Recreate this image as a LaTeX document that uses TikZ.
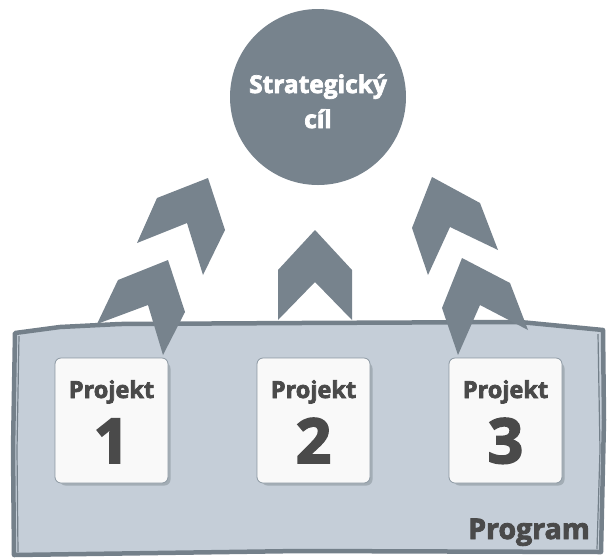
\documentclass[tikz,border=0pt]{standalone}
\usepackage{fontspec}
\setmainfont{Open Sans}[BoldFeatures={FakeBold=3}]
\usetikzlibrary{calc}
\definecolor{slate}{HTML}{77838D}
\definecolor{boxfill}{HTML}{C5CED8}
\definecolor{edge}{HTML}{74808A}
\definecolor{cardfill}{HTML}{F9F9F9}
\definecolor{cardedge}{HTML}{8C98A2}
\definecolor{ink}{HTML}{4A4A4A}
\tikzset{
  chevron/.style={fill=slate, draw=none},
  card/.style={draw=cardedge, line width=0.8pt, fill=cardfill, rounded corners=6pt,
    minimum width=113pt, minimum height=125pt, inner sep=0pt, outer sep=0pt},
  cardshadow/.style={fill=cardedge!80, rounded corners=6pt, draw=none},
  cardtitle/.style={font=\bfseries\fontsize{23.5}{23.5}\selectfont, text=ink, anchor=base, inner sep=0pt},
  cardnum/.style={font=\bfseries\fontsize{62}{62}\selectfont, text=ink, anchor=base, inner sep=0pt},
  goaltext/.style={font=\bfseries\fontsize{24.5}{24.5}\selectfont, text=white, anchor=base, inner sep=0pt},
}
\begin{document}
\begin{tikzpicture}[x=1pt,y=-1pt]
\useasboundingbox (0,0) rectangle (608,558);
% program box (hand drawn)
\path[fill=boxfill] (15,333) -- (60,327) -- (120,324) -- (300,323) -- (520,322) -- (603,330)
  -- (604,420) -- (601,552) -- (300,551) -- (14,555) -- (13,450) -- cycle;
\draw[edge, line width=4.5pt, line join=round] (15,333) -- (60,327) -- (120,324) -- (300,323) -- (520,322) -- (603,330)
  -- (604,420) -- (601,552) -- (300,551) -- (14,555) -- (13,450) -- cycle;
\draw[edge, line width=1.2pt] (19,336) -- (17,450) -- (18,552);
\draw[edge, line width=1.2pt] (598,334) -- (600,450) -- (597,549);
% goal circle
\node[circle, fill=slate, minimum size=176pt, inner sep=0pt] (goal) at (318,97) {};
\node[goaltext] (g1) at (318,93) {Strategický};
\node[goaltext] (g2) at (318,128) {cíl};
% chevrons
\fill[chevron] (137,243) -- (157,198) -- (208,178) -- (225,230) -- (203,275) -- (187,223) -- cycle;
\fill[chevron] (97,324) -- (118,280) -- (168,260) -- (185,312) -- (163,355) -- (148,305) -- cycle;
\fill[chevron] (278,320) -- (278,270) -- (315,230) -- (352,270) -- (352,320) -- (315,282) -- cycle;
\fill[chevron] (412,228) -- (432,177) -- (480,203) -- (498,250) -- (450,227) -- (428,275) -- cycle;
\fill[chevron] (442,308) -- (462,258) -- (510,283) -- (528,330) -- (480,305) -- (458,355) -- cycle;
% project cards
\foreach \n/\x in {1/111.5, 2/313.5, 3/505.5}{
  \fill[cardshadow] ($(\x,420.5)+(-54.5,-60.5)+(2.5,2.5)$) rectangle ($(\x,420.5)+(56.5,62.5)+(2.5,2.5)$);
  \node[card] (p\n) at (\x,420.5) {};
  \node[cardtitle] (t\n) at ($(p\n.north)+(0,40)$) {Projekt};
  \node[cardnum] (n\n) at ($(p\n.north)+(0,105)$) {\n};
}
\node[font=\bfseries\fontsize{28.5}{28.5}\selectfont, text=ink, anchor=base east, inner sep=0pt] (prog) at (590,539) {Program};
\end{tikzpicture}
\end{document}
